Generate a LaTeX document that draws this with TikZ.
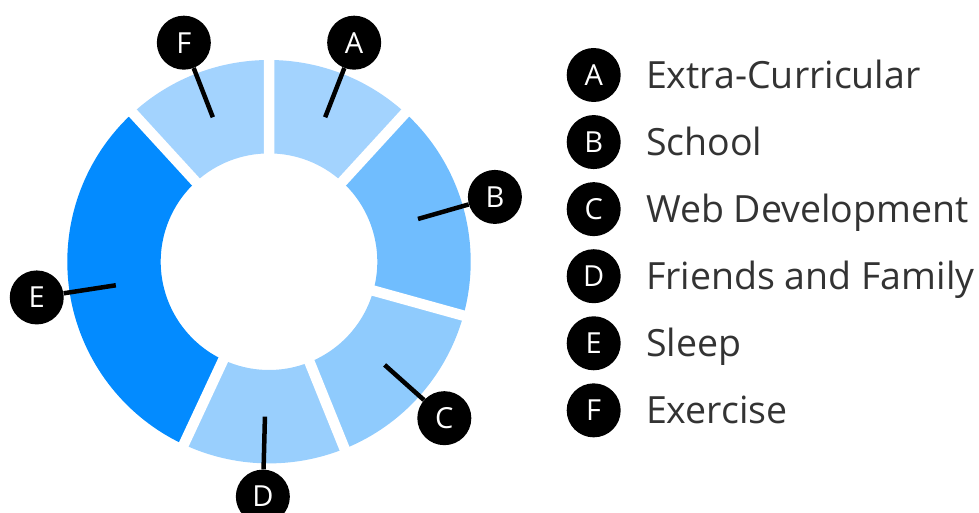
\documentclass[tikz,border=0pt]{standalone}
\usepackage{fontspec}
\setmainfont{Open Sans}
\usetikzlibrary{positioning}
\definecolor{segA}{RGB}{163,211,254}
\definecolor{segB}{RGB}{112,189,254}
\definecolor{segC}{RGB}{143,203,253}
\definecolor{segD}{RGB}{153,207,253}
\definecolor{segE}{RGB}{3,139,255}
\definecolor{segF}{RGB}{163,211,254}
\definecolor{legendtext}{RGB}{51,51,51}
\begin{document}
\begin{tikzpicture}[x=1pt,y=1pt,
  badge/.style={circle,fill=black,text=white,minimum size=54pt,inner sep=0pt,font=\fontsize{29}{29}\selectfont},
  entry/.style={inner sep=0pt,text=legendtext,text height=26.8pt,text depth=0pt,font=\fontsize{37.5}{37.5}\selectfont},
  gap/.style={white,line width=10.5pt},
  leader/.style={line width=4.5pt}]

  \useasboundingbox (0,0) rectangle (979,512);

  \begin{scope}[shift={(269,250.3)}]
    \fill[segA] (47.5:201.7) arc[start angle=47.5,end angle=90,radius=201.7] -- (90:108.3) arc[start angle=90,end angle=47.5,radius=108.3] -- cycle;
    \fill[segB] (-15.5:201.7) arc[start angle=-15.5,end angle=47.5,radius=201.7] -- (47.5:108.3) arc[start angle=47.5,end angle=-15.5,radius=108.3] -- cycle;
    \fill[segC] (-68:201.7) arc[start angle=-68,end angle=-15.5,radius=201.7] -- (-15.5:108.3) arc[start angle=-15.5,end angle=-68,radius=108.3] -- cycle;
    \fill[segD] (-115:201.7) arc[start angle=-115,end angle=-68,radius=201.7] -- (-68:108.3) arc[start angle=-68,end angle=-115,radius=108.3] -- cycle;
    \fill[segE] (-227.5:201.7) arc[start angle=-227.5,end angle=-115,radius=201.7] -- (-115:108.3) arc[start angle=-115,end angle=-227.5,radius=108.3] -- cycle;
    \fill[segF] (90:201.7) arc[start angle=90,end angle=132.5,radius=201.7] -- (132.5:108.3) arc[start angle=132.5,end angle=90,radius=108.3] -- cycle;

    \draw[gap] (0,0) -- (90:212) (0,0) -- (47.5:212) (0,0) -- (-15.5:212)
      (0,0) -- (-68:212) (0,0) -- (-115:212) (0,0) -- (132.5:212);

    \coordinate (a) at (68.75:155);
    \coordinate (b) at (16:155);
    \coordinate (c) at (-41.75:155);
    \coordinate (d) at (-91.5:155);
    \coordinate (e) at (-171.25:155);
    \coordinate (f) at (111.25:155);

    \node[badge] (A) at (68.75:235) {A};
    \node[badge] (B) at (16:235) {B};
    \node[badge] (C) at (-41.75:235) {C};
    \node[badge] (D) at (-91.5:235) {D};
    \node[badge] (E) at (-171.25:235) {E};
    \node[badge] (F) at (111.25:235) {F};

    \path[leader]
      (A) edge (a)
      (B) edge (b)
      (C) edge (c)
      (D) edge (d)
      (E) edge (e)
      (F) edge (f);
  \end{scope}

  \node[badge] (lA) at (593.7,437) {A};
  \node[badge] (lB) [below=12.67pt of lA] {B};
  \node[badge] (lC) [below=12.67pt of lB] {C};
  \node[badge] (lD) [below=12.67pt of lC] {D};
  \node[badge] (lE) [below=12.67pt of lD] {E};
  \node[badge] (lF) [below=12.67pt of lE] {F};

  \node[entry] (tA) [right=25pt of lA] {Extra-Curricular};
  \node[entry] (tB) [right=25pt of lB] {School};
  \node[entry] (tC) [right=25pt of lC] {Web Development};
  \node[entry] (tD) [right=25pt of lD] {Friends and Family};
  \node[entry] (tE) [right=25pt of lE] {Sleep};
  \node[entry] (tF) [right=25pt of lF] {Exercise};
\end{tikzpicture}
\end{document}
